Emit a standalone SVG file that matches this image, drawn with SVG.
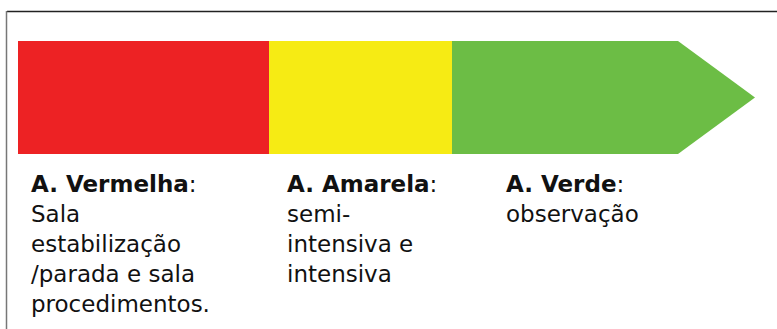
<svg xmlns="http://www.w3.org/2000/svg" width="777" height="329" viewBox="0 0 777 329">
<style>
text{font-family:"DejaVu Sans","Liberation Sans",sans-serif;font-size:23px;fill:#111}
.b{font-weight:bold}
</style>
<rect width="777" height="329" fill="#fff"/>
<g id="frame">
<line x1="7" y1="11.5" x2="777" y2="11.5" stroke="#222" stroke-width="1.5"/>
<line x1="6.5" y1="11" x2="6.5" y2="329" stroke="#777" stroke-width="1.5"/>
</g>
<g id="red"><rect x="18" y="41" width="251" height="113" fill="#ed2224"/></g>
<g id="yellow"><rect x="269" y="41" width="183" height="113" fill="#f6eb14"/></g>
<g id="green"><polygon points="452,41 678,41 755,97.5 678,154 452,154" fill="#6cbd45"/></g>
<g id="label-red">
<text x="31" y="192"><tspan class="b">A. Vermelha</tspan>:</text>
<text x="31" y="222">Sala</text>
<text x="31" y="252">estabilização</text>
<text x="31" y="282">/parada e sala</text>
<text x="31" y="312">procedimentos.</text>
</g>
<g id="label-yellow">
<text x="287" y="192"><tspan class="b">A. Amarela</tspan>:</text>
<text x="287" y="222">semi-</text>
<text x="287" y="252">intensiva e</text>
<text x="287" y="282">intensiva</text>
</g>
<g id="label-green">
<text x="506" y="192"><tspan class="b">A. Verde</tspan>:</text>
<text x="506" y="222">observação</text>
</g>
</svg>
